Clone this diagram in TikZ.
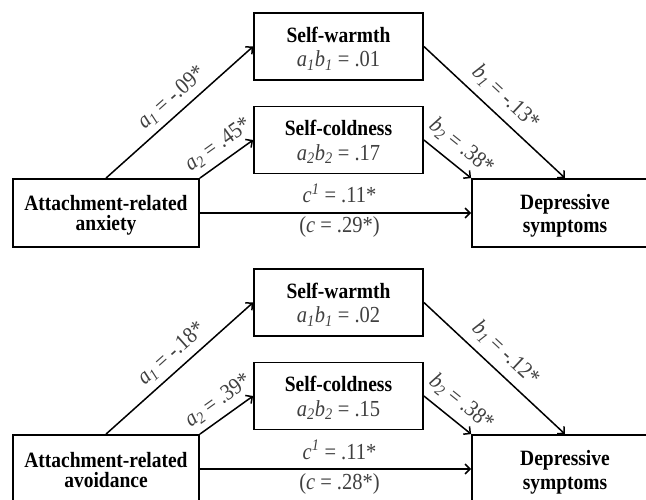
\documentclass[tikz,border=0pt]{standalone}
\usepackage{fontspec}
\usepackage{graphicx}
\setmainfont{Liberation Serif}
\usetikzlibrary{arrows.meta}
\newcommand\tall[1]{\scalebox{1}[1.12]{#1}}
\newcommand\abpair[2]{\textit{a}\textsubscript{\textit{#1}}\textit{b}\textsubscript{\textit{#2}}}
\newcommand\symsub[2]{\textit{#1}\textsubscript{\textit{#2}}}
\tikzset{
  varbox/.style={draw, line width=1.8pt, inner sep=0pt},
  medbox/.style={varbox, minimum width=169pt, minimum height=67pt},
  endbox/.style={varbox, minimum width=186pt, minimum height=68pt},
  boldtxt/.style={anchor=base, inner sep=0pt, font=\fontsize{19.5}{20}\selectfont\bfseries},
  valtxt/.style={anchor=base, inner sep=0pt, text=black!75, font=\fontsize{20.5}{22}\selectfont},
  conn/.style={draw, line width=1.5pt, -{Straight Barb[length=5pt,width=10pt]}},
  lab/.style={font=\fontsize{20.5}{22}\selectfont, text=black!75, inner sep=0pt}
}
\begin{document}
\begin{tikzpicture}[x=1pt, y=-1pt]
\useasboundingbox (0,0) rectangle (646,500);
\fill[white] (0,0) rectangle (646,500);
\clip (0,0) rectangle (646,500);

% ---------- top panel ----------
\node[endbox] (anx) at (106,213) {};
\node[medbox] (warm) at (338.5,46.5) {};
\node[medbox] (cold) at (338.5,140) {};
\node[endbox] (dep) at (565,213) {};

\node[boldtxt] (anxA) at (106,211) {\tall{Attachment-related}};
\node[boldtxt] (anxB) at (106,231) {\tall{anxiety}};
\node[boldtxt] (warmA) at (338.5,42.5) {\tall{Self-warmth}};
\node[valtxt] (warmB) at (338.5,67) {\tall{\abpair{1}{1} = .01}};
\node[boldtxt] (coldA) at (338.5,135.5) {\tall{Self-coldness}};
\node[valtxt] (coldB) at (338.5,160.5) {\tall{\abpair{2}{2} = .17}};
\node[boldtxt] (depA) at (565,209.5) {\tall{Depressive}};
\node[boldtxt] (depB) at (565,233) {\tall{symptoms}};

\draw[conn] (anx.north) -- node[lab, sloped, above=6pt, pos=0.52] {\tall{\symsub{a}{1} = -.09*}} (warm.west);
\draw[conn] (anx.north east) -- node[lab, sloped, above=6pt, pos=0.52] {\tall{\symsub{a}{2} = .45*}} (cold.west);
\draw[conn] (warm.east) -- node[lab, sloped, above=8pt, pos=0.49] {\tall{\symsub{b}{1} = -.13*}} (dep.north);
\draw[conn] (cold.east) -- node[lab, sloped, above=8pt, pos=0.55] {\tall{\symsub{b}{2} = .38*}} (dep.north west);
\draw[conn] (anx.east) -- node[lab, anchor=base, xshift=4pt, yshift=10pt] {\tall{\textit{c}\textsuperscript{\textit{1}} = .11*}}
  node[lab, anchor=base, xshift=4pt, yshift=-20pt] {\tall{(\textit{c} = .29*)}} (dep.west);

% ---------- bottom panel ----------
\node[endbox] (avo) at (106,469) {};
\node[medbox] (warmb) at (338.5,302.5) {};
\node[medbox] (coldb) at (338.5,396) {};
\node[endbox] (depb) at (565,469) {};

\node[boldtxt] (avoA) at (106,467) {\tall{Attachment-related}};
\node[boldtxt] (avoB) at (106,487) {\tall{avoidance}};
\node[boldtxt] (warmbA) at (338.5,298.5) {\tall{Self-warmth}};
\node[valtxt] (warmbB) at (338.5,323) {\tall{\abpair{1}{1} = .02}};
\node[boldtxt] (coldbA) at (338.5,391.5) {\tall{Self-coldness}};
\node[valtxt] (coldbB) at (338.5,416.5) {\tall{\abpair{2}{2} = .15}};
\node[boldtxt] (depbA) at (565,465.5) {\tall{Depressive}};
\node[boldtxt] (depbB) at (565,489) {\tall{symptoms}};

\draw[conn] (avo.north) -- node[lab, sloped, above=6pt, pos=0.52] {\tall{\symsub{a}{1} = -.18*}} (warmb.west);
\draw[conn] (avo.north east) -- node[lab, sloped, above=6pt, pos=0.52] {\tall{\symsub{a}{2} = .39*}} (coldb.west);
\draw[conn] (warmb.east) -- node[lab, sloped, above=8pt, pos=0.49] {\tall{\symsub{b}{1} = -.12*}} (depb.north);
\draw[conn] (coldb.east) -- node[lab, sloped, above=8pt, pos=0.55] {\tall{\symsub{b}{2} = .38*}} (depb.north west);
\draw[conn] (avo.east) -- node[lab, anchor=base, xshift=4pt, yshift=10pt] {\tall{\textit{c}\textsuperscript{\textit{1}} = .11*}}
  node[lab, anchor=base, xshift=4pt, yshift=-20pt] {\tall{(\textit{c} = .28*)}} (depb.west);
\end{tikzpicture}
\end{document}
